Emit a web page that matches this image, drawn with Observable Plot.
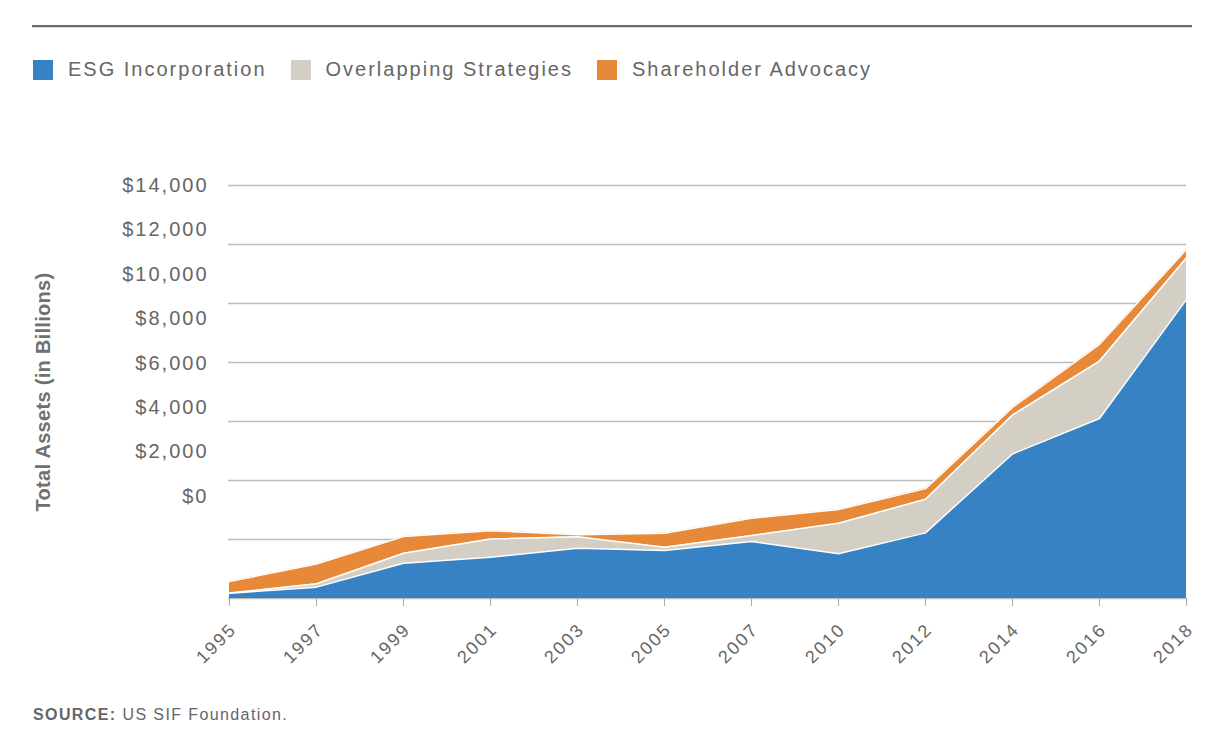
<!DOCTYPE html>
<html>
<head>
<meta charset="utf-8">
<script src="https://cdn.jsdelivr.net/npm/d3@7"></script>
<script src="https://cdn.jsdelivr.net/npm/@observablehq/plot@0.6"></script>
<style>
  html, body { margin: 0; padding: 0; background: #fff; width: 1224px; height: 742px; overflow: hidden; position: relative; font-family: "Liberation Sans", Arial, Helvetica, sans-serif; color: #666; }
  .rule { position: absolute; left: 32px; top: 25px; width: 1160px; height: 2px; background: #6a6a6a; border-bottom: 1px solid #d9d9d9; }
  .legend { position: absolute; left: 33px; top: 58px; display: flex; align-items: center; font-size: 20px; letter-spacing: 2px; color: #666; }
  .legend .item { display: flex; align-items: center; margin-right: 24px; }
  .legend .sw { width: 20px; height: 20px; margin-right: 15px; }
  #chart { position: absolute; left: 0; top: 100px; }
  .caption { position: absolute; left: 33px; top: 706px; font-size: 16px; letter-spacing: 1.4px; color: #666; }
  .caption b { font-weight: bold; }
  #chart svg text { letter-spacing: 2px; }
  #chart svg text.ytitle { letter-spacing: 0.3px; }
</style>
</head>
<body>
<div class="rule"></div>
<div class="legend" id="legend"></div>
<div id="chart"></div>
<div class="caption"><b>SOURCE:</b> US SIF Foundation.</div>
<script>
// ---- data (billions of dollars) ----
const years = ["1995","1997","1999","2001","2003","2005","2007","2010","2012","2014","2016","2018"];
const esgIncorporation = [175, 385, 1195, 1400, 1700, 1625, 1930, 1515, 2225, 4900, 6100, 10140];
const overlappingStrategies = [10, 115, 340, 620, 395, 110, 205, 1035, 1140, 1320, 1950, 1410];
const shareholderAdvocacy = [390, 670, 565, 280, 65, 475, 585, 465, 360, 260, 565, 285];
const seriesNames = ["ESG Incorporation", "Overlapping Strategies", "Shareholder Advocacy"];
const seriesColors = ["#3682c4", "#d3cfc4", "#e8893a"];
const yTickValues = [0, 2000, 4000, 6000, 8000, 10000, 12000, 14000];
// The published chart prints its dollar labels at 3/4 of the gridline pitch, hung from the top gridline.
const labelPitchRatio = 0.753;

const seriesValues = [esgIncorporation, overlappingStrategies, shareholderAdvocacy];
const data = [];
seriesNames.forEach((name, s) => {
  years.forEach((yr, i) => data.push({year: yr, series: name, value: seriesValues[s][i]}));
});

// legend
const legend = document.getElementById("legend");
seriesNames.forEach((name, i) => {
  const it = document.createElement("div");
  it.className = "item";
  it.innerHTML = `<span class="sw" style="background:${seriesColors[i]}"></span><span>${name}</span>`;
  legend.appendChild(it);
});

const yMax = d3.max(yTickValues);
const labelY = v => yMax - (yMax - v) * labelPitchRatio;
const fmt = v => "$" + d3.format(",")(v);

const chart = Plot.plot({
  width: 1224,
  height: 590,
  marginLeft: 228,
  marginRight: 38,
  marginTop: 85,
  marginBottom: 92,
  style: {fontFamily: '"Liberation Sans", Arial, Helvetica, sans-serif', fontSize: "20px", color: "#666", background: "white", overflow: "visible"},
  x: {type: "point", domain: years, padding: 0},
  y: {domain: [0, yMax]},
  color: {domain: seriesNames, range: seriesColors},
  marks: [
    Plot.ruleY(yTickValues, {stroke: "#bdbdbd", strokeWidth: 1.5}),
    Plot.areaY(data, Plot.stackY({x: "year", y: "value", z: "series", fill: "series", order: seriesNames})),
    Plot.lineY(data, Plot.stackY2({x: "year", y: "value", z: "series", order: seriesNames, stroke: "white", strokeWidth: 1.5})),
    Plot.text(yTickValues, {y: d => labelY(d), text: fmt, frameAnchor: "left", textAnchor: "end", dx: -20, fontSize: 20, fill: "#666"}),
    // tick marks only
    Plot.axisX({tickSize: 8, tickFormat: () => "", stroke: "#aaa", label: null}),
    // rotated year labels
    Plot.axisX({tickRotate: -45, tickSize: 0, tickPadding: 4, fontSize: 18, fill: "#666", label: null, dx: 4, dy: 24}),
    Plot.axisY({ticks: [], label: null, tickSize: 0})
  ]
});
document.getElementById("chart").appendChild(chart);

// y-axis title
const svg = d3.select(chart);
svg.append("text")
  .attr("class", "ytitle")
  .attr("transform", "translate(50, 292) rotate(-90)")
  .attr("text-anchor", "middle")
  .attr("font-weight", "bold")
  .attr("font-size", 20)
  .attr("fill", "#707070")
  .text("Total Assets (in Billions)");
</script>
</body>
</html>
